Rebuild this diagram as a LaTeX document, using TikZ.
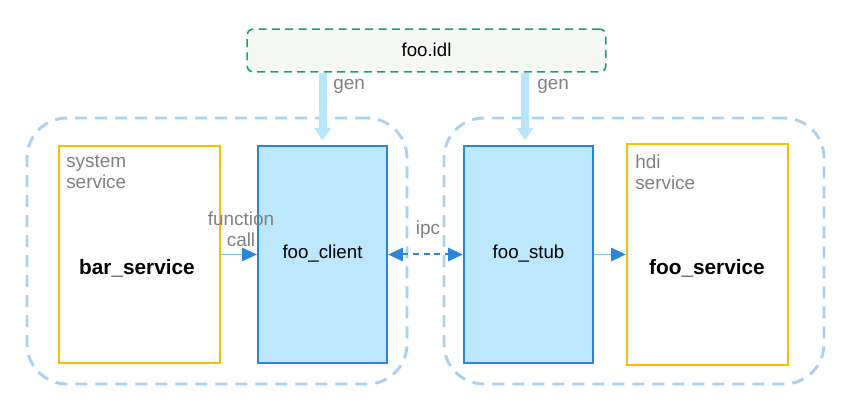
\documentclass[tikz,border=0pt]{standalone}
\usepackage{fontspec}
\setmainfont{Liberation Sans}
\usetikzlibrary{arrows.meta}

\definecolor{idlgreen}{HTML}{1A9E78}
\definecolor{idlfill}{HTML}{F4F9F3}
\definecolor{zoneblue}{HTML}{A9D1F2}
\definecolor{svcyellow}{HTML}{F7BF00}
\definecolor{proxyfill}{HTML}{BDE7FD}
\definecolor{proxyblue}{HTML}{2B86D9}
\definecolor{genblue}{HTML}{B9E6FD}
\definecolor{callline}{HTML}{7AB8EA}
\definecolor{notegray}{HTML}{808080}

\tikzset{
    idlbox/.style={draw=idlgreen, fill=idlfill, line width=1.2pt, dash pattern=on 6pt off 4pt,
        rounded corners=4.5pt, minimum width=269pt, minimum height=32pt, inner sep=0pt},
    zone/.style={draw=zoneblue, line width=2.2pt, dash pattern=on 9pt off 6pt,
        rounded corners=30pt, minimum width=285pt, minimum height=199.5pt, inner sep=0pt},
    svcbox/.style={draw=svcyellow, line width=1.5pt, minimum width=121pt, minimum height=163pt, inner sep=0pt},
    proxybox/.style={draw=proxyblue, fill=proxyfill, line width=1.5pt, minimum width=97pt, minimum height=163pt, inner sep=0pt},
    genarrow/.style={draw=genblue, line width=6pt, -{Triangle[length=9pt,width=12pt]}, shorten >=3.5pt},
    callarrow/.style={draw=callline, line width=1.1pt, -{Triangle[length=11pt,width=10pt,color=proxyblue]}},
    note/.style={text=notegray, font=\fontsize{14.2}{16}\selectfont, inner sep=0pt, align=left},
    proxylabel/.style={font=\fontsize{14}{16}\selectfont, inner sep=0pt},
    svclabel/.style={font=\fontsize{15.6}{18}\selectfont\bfseries, inner sep=0pt}
}

\begin{document}
\begin{tikzpicture}[x=0.75pt, y=-0.75pt]
    \useasboundingbox (0,0) rectangle (851,409);

    % Dashed containers
    \node[zone] (leftzone) at (217,251) {};
    \node[zone] (rightzone) at (634,251) {};

    % Service boxes
    \node[svcbox] (bar) at (139.5,254.5) {};
    \node[svcbox, minimum height=166pt] (foo) at (707.5,254.5) {};
    \node[svclabel] (barname) at (137,268) {bar\_service};
    \node[svclabel] (fooname) at (707,268) {foo\_service};
    \node[note, anchor=north west] (systemnote) at (66,154.5) {system\\service};
    \node[note, anchor=north west] (hdinote) at (635,154.5) {hdi\\service};

    % Client and stub
    \node[proxybox] (client) at (322.5,254.5) {};
    \node[proxybox] (stub) at (528.5,254.5) {};
    \node[proxylabel] (clientname) at (322.5,254) {foo\_client};
    \node[proxylabel] (stubname) at (528.5,254) {foo\_stub};

    % IDL file
    \node[idlbox] (idl) at (426.5,50.5) {};
    \node[proxylabel] (idlname) at (426.5,50) {foo.idl};

    % Generated code
    \draw[genarrow] (idl.south -| client.north) -- (client.north);
    \draw[genarrow] ([xshift=-2.5]idl.south -| stub.north) -- ([xshift=-2.5]stub.north);
    \node[note, anchor=west] (gen1) at (333,86) {gen};
    \node[note, anchor=west] (gen2) at (537,86) {gen};

    % Calls
    \draw[callarrow] (bar.east) -- (client.west);
    \draw[callarrow] (stub.east) -- (foo.west);
    \draw[proxyblue, line width=1.5pt, dash pattern=on 4.5pt off 3.5pt,
        {Triangle[length=11pt,width=10pt]}-{Triangle[length=11pt,width=10pt]}] (client.east) -- (stub.west);
    \node[note, align=center] (callnote) at (241,229) {function\\call};
    \node[note] (ipcnote) at (428,230) {ipc};
\end{tikzpicture}
\end{document}
